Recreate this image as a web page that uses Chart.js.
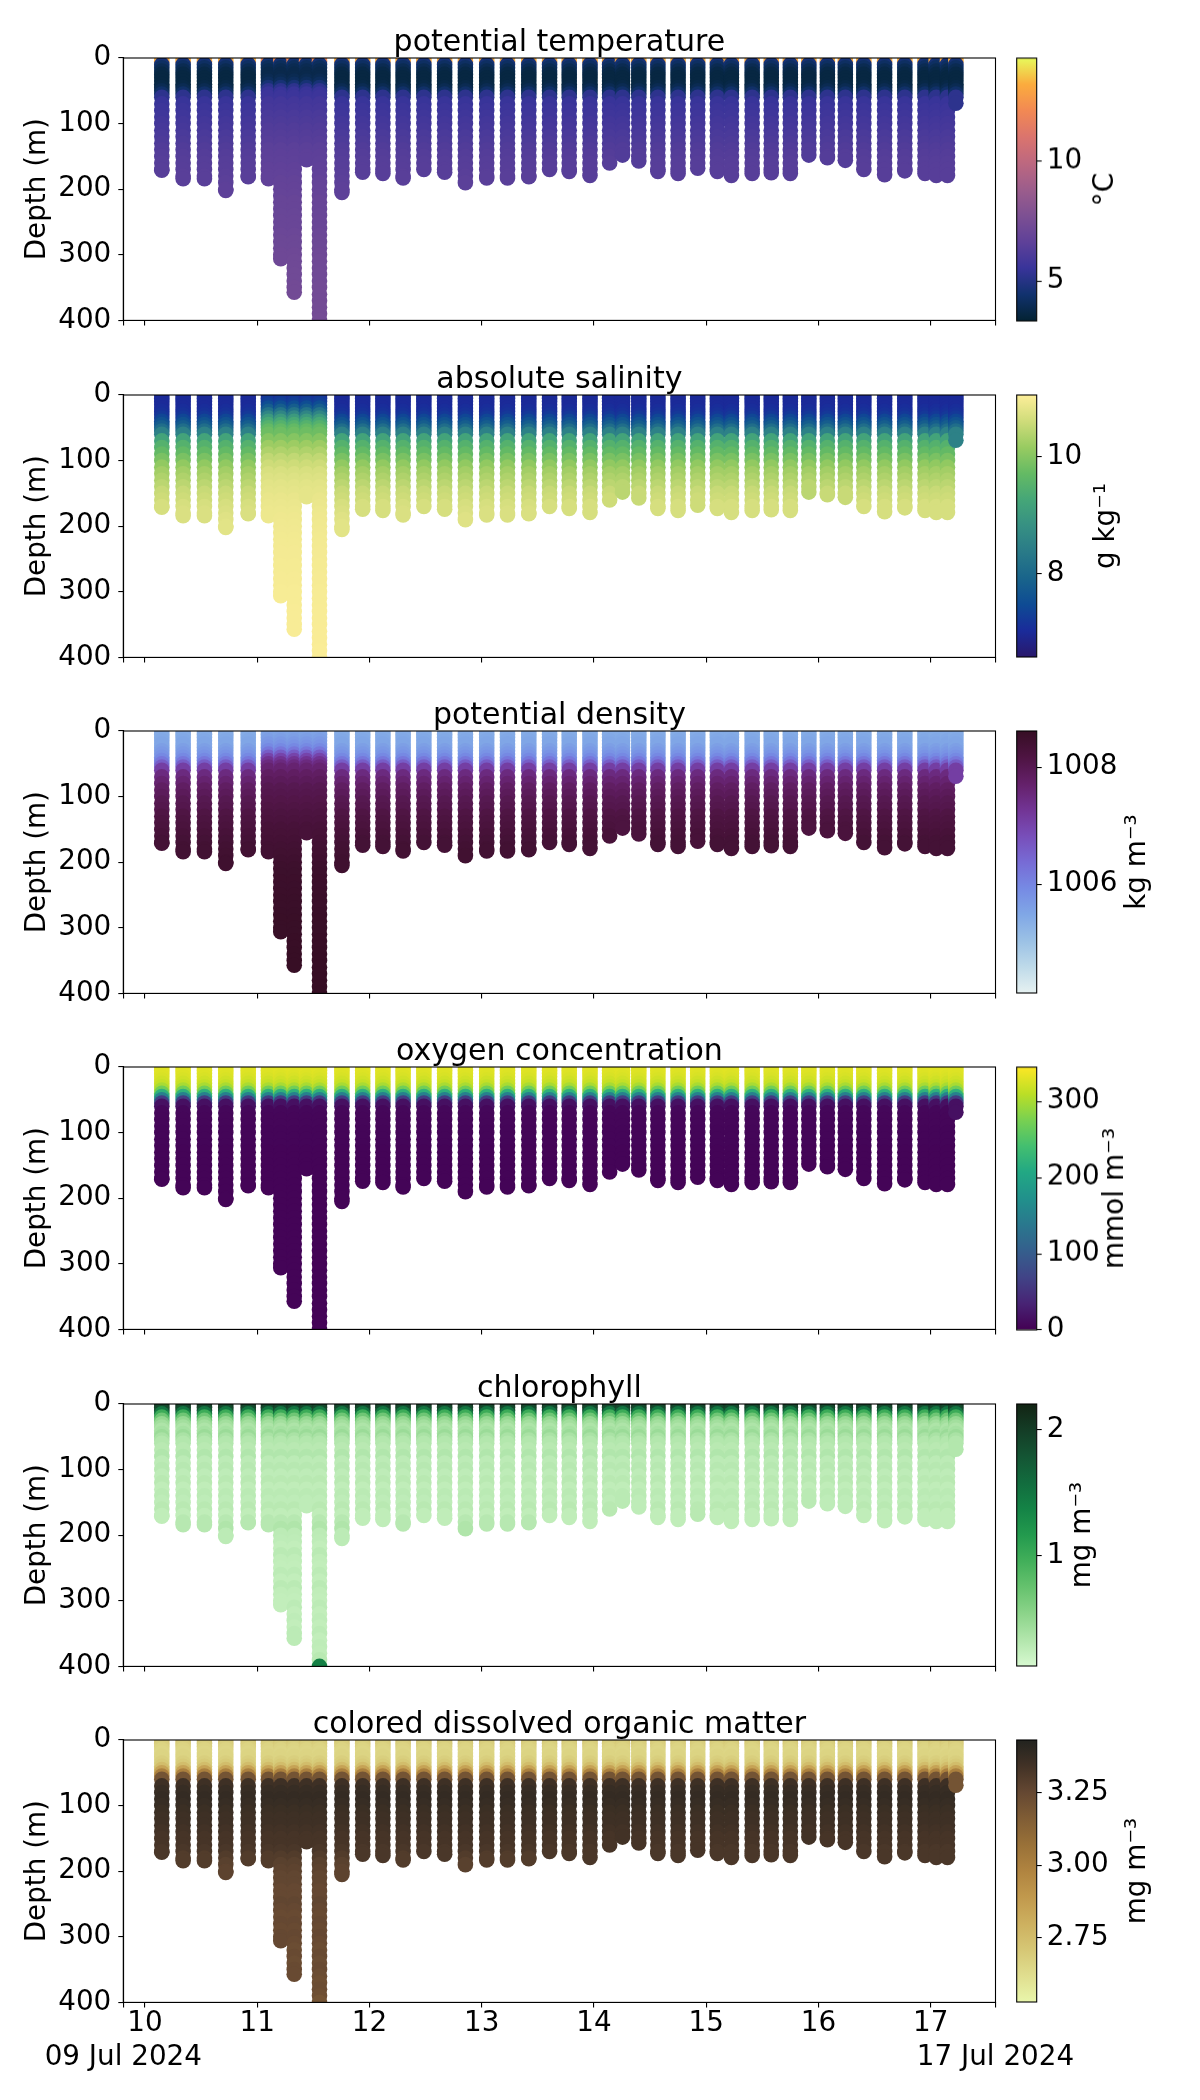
<!DOCTYPE html>
<html>
<head>
<meta charset="utf-8">
<script src="https://cdn.jsdelivr.net/npm/chart.js@4.4.1/dist/chart.umd.min.js"></script>
<style>
  body { margin: 0; background: #fff; }
  #fig { position: relative; width: 1200px; height: 2100px; overflow: hidden; }
  canvas { position: absolute; }
</style>
</head>
<body>
<div id="fig"></div>
<script>
// profile times (day of July 2024) and deepest sample of each profile (m)
const profileDays = [10.15, 10.34, 10.53, 10.72, 10.92, 11.10, 11.21, 11.33, 11.44, 11.555,
  11.755, 11.94, 12.12, 12.30, 12.485, 12.67, 12.855, 13.045, 13.23, 13.42,
  13.605, 13.78, 13.965, 14.14, 14.255, 14.40, 14.57, 14.75, 14.925, 15.10,
  15.225, 15.41, 15.58, 15.75, 15.915, 16.08, 16.24, 16.405, 16.59, 16.77,
  16.95, 17.05, 17.15, 17.225];
const profileMaxDepth = [171, 184, 184, 202, 181, 184, 306, 357, 155, 400,
  205, 174, 176, 183, 170, 174, 190, 183, 183, 181,
  170, 173, 179, 160, 148, 157, 173, 176, 168, 173,
  179, 176, 175, 176, 148, 152, 156, 170, 178, 172,
  176, 179, 179, 69];
// profiles around 11 Jul with a shallower pycnocline
const shallowProfiles = [5, 6, 7, 8, 9];

const depthLevels = [0, 5, 10, 15, 20, 25, 30, 35, 40, 45, 50, 55, 60,
  70, 80, 90, 100, 110, 120, 130, 140, 150, 160, 170, 180, 190, 200,
  210, 220, 230, 240, 250, 260, 270, 280, 290, 300, 310, 320, 330, 340, 350, 360, 370, 380, 390, 400];

const tempMain = [13.8, 13.0, 4.6, 4.2, 3.9, 3.7, 3.6, 3.6, 3.6, 3.7, 3.9, 4.3, 5.2,
  5.5, 5.6, 5.7, 5.8, 5.9, 6.0, 6.1, 6.2, 6.3, 6.35, 6.4, 6.45, 6.5, 6.55,
  6.6, 6.65, 6.7, 6.75, 6.8, 6.85, 6.9, 6.9, 6.95, 7.0, 7.0, 7.05, 7.1, 7.1, 7.15, 7.15, 7.2, 7.2, 7.2, 7.2];
const tempShallow = [13.0, 12.0, 4.5, 4.1, 3.9, 3.8, 3.8, 3.9, 4.1, 4.6, 5.2, 5.5, 5.6,
  5.8, 5.9, 6.0, 6.1, 6.2, 6.3, 6.4, 6.5, 6.55, 6.6, 6.65, 6.7, 6.75, 6.8,
  6.85, 6.9, 6.9, 6.95, 7.0, 7.0, 7.05, 7.1, 7.1, 7.15, 7.2, 7.2, 7.25, 7.25, 7.3, 7.3, 7.3, 7.35, 7.35, 7.4];

const salMain = [7.0, 7.0, 7.0, 7.0, 7.0, 7.05, 7.1, 7.2, 7.4, 7.6, 7.8, 8.1, 8.5,
  9.2, 9.5, 9.7, 9.9, 10.1, 10.25, 10.35, 10.45, 10.55, 10.6, 10.68, 10.72, 10.77, 10.8,
  10.83, 10.85, 10.87, 10.88, 10.9, 10.9, 10.92, 10.93, 10.94, 10.95, 10.95, 10.96, 10.97, 10.98, 10.98, 10.99, 11.0, 11.0, 11.0, 11.0];
const salShallow = [7.1, 7.1, 7.2, 7.3, 7.5, 7.8, 8.2, 8.6, 9.0, 9.3, 9.5, 9.7, 9.8,
  10.0, 10.2, 10.35, 10.5, 10.6, 10.7, 10.75, 10.8, 10.83, 10.86, 10.88, 10.9, 10.92, 10.93,
  10.94, 10.95, 10.96, 10.97, 10.97, 10.98, 10.98, 10.99, 10.99, 11.0, 11.0, 11.0, 11.01, 11.01, 11.01, 11.02, 11.02, 11.02, 11.03, 11.03];

const densMain = [1005.4, 1005.4, 1005.4, 1005.45, 1005.5, 1005.5, 1005.6, 1005.7, 1005.8, 1005.95, 1006.2, 1006.6, 1007.1,
  1007.5, 1007.65, 1007.8, 1007.9, 1008.0, 1008.05, 1008.15, 1008.2, 1008.25, 1008.3, 1008.35, 1008.4, 1008.42, 1008.45,
  1008.48, 1008.49, 1008.5, 1008.5, 1008.51, 1008.52, 1008.53, 1008.53, 1008.54, 1008.55, 1008.55, 1008.56, 1008.56, 1008.57, 1008.57, 1008.58, 1008.58, 1008.58, 1008.59, 1008.59];
const densShallow = [1005.5, 1005.5, 1005.55, 1005.6, 1005.7, 1005.8, 1005.95, 1006.2, 1006.6, 1007.0, 1007.3, 1007.5, 1007.65,
  1007.8, 1007.9, 1008.0, 1008.05, 1008.1, 1008.15, 1008.2, 1008.25, 1008.3, 1008.33, 1008.36, 1008.39, 1008.42, 1008.45,
  1008.48, 1008.5, 1008.51, 1008.52, 1008.53, 1008.54, 1008.55, 1008.56, 1008.57, 1008.58, 1008.58, 1008.59, 1008.59, 1008.6, 1008.6, 1008.6, 1008.61, 1008.61, 1008.61, 1008.62];

const oxyMain = [330, 330, 330, 328, 325, 320, 315, 300, 270, 220, 150, 60, 15,
  6, 5, 5, 4, 4, 4, 3, 3, 3, 3, 3, 3, 3, 3,
  3, 3, 3, 3, 3, 3, 3, 3, 3, 3, 3, 3, 3, 3, 3, 3, 3, 3, 3, 3];

const chlMain = [2.1, 2.0, 1.9, 1.5, 1.0, 0.7, 0.5, 0.42, 0.36, 0.4, 0.46, 0.38, 0.33,
  0.3, 0.34, 0.28, 0.31, 0.27, 0.3, 0.26, 0.29, 0.27, 0.3, 0.26, 0.31, 0.35, 0.28,
  0.27, 0.25, 0.29, 0.26, 0.25, 0.28, 0.25, 0.29, 0.26, 0.25, 0.28, 0.25, 0.27, 0.25, 0.28, 0.25, 0.27, 0.26, 0.3, 1.4];

const cdomMain = [2.72, 2.7, 2.68, 2.66, 2.65, 2.66, 2.66, 2.68, 2.7, 2.75, 2.85, 3.0, 3.2,
  3.35, 3.37, 3.38, 3.37, 3.36, 3.35, 3.35, 3.34, 3.33, 3.33, 3.32, 3.3, 3.28, 3.27,
  3.26, 3.26, 3.25, 3.25, 3.26, 3.25, 3.24, 3.25, 3.24, 3.25, 3.24, 3.23, 3.24, 3.23, 3.24, 3.23, 3.22, 3.23, 3.22, 3.2];

// axis ticks
const dayTicks = [10, 11, 12, 13, 14, 15, 16, 17];
const depthTicks = [0, 100, 200, 300, 400];
const dateLabels = ['09 Jul 2024', '17 Jul 2024'];
const xMin = 9.807, xMax = 17.578;

const tempTicks = [5, 10];
const salTicks = [8, 10];
const densTicks = [1006, 1008];
const oxyTicks = [0, 100, 200, 300];
const chlTicks = [1, 2];
const cdomTicks = [2.75, 3.00, 3.25];

// colormaps (evenly spaced stops)
const thermal = [[4,35,51],[17,50,110],[57,52,154],[95,65,153],[125,80,147],[156,93,140],[189,104,128],[219,116,110],[242,137,84],[251,172,62],[232,250,91]];
const haline = [[41,24,107],[26,43,154],[14,75,148],[25,100,139],[41,122,136],[54,144,131],[69,166,120],[100,186,100],[152,203,97],[207,220,122],[253,238,153]];
const dense = [[230,241,241],[190,218,233],[155,193,229],[128,167,230],[118,138,228],[119,107,213],[120,78,185],[114,52,148],[100,32,105],[78,20,66],[54,14,36]];
const viridis = [[68,1,84],[72,36,117],[65,68,135],[53,95,141],[42,120,142],[33,145,140],[34,168,132],[68,191,112],[122,209,81],[189,223,38],[253,231,37]];
const algae = [[215,249,208],[178,230,172],[140,212,138],[102,194,110],[66,175,90],[35,154,78],[20,131,70],[18,108,62],[20,85,52],[20,61,38],[18,36,20]];
const turbid = [[233,246,171],[224,222,143],[214,199,117],[205,176,95],[193,153,77],[176,132,64],[153,113,56],[128,93,53],[101,72,50],[66,50,38],[34,35,31]];

const panels = [
  { title: 'potential temperature', main: tempMain, alt: tempShallow, cmap: thermal, vmin: 3.33, vmax: 14.29, ticks: tempTicks, dec: 0, unit: '°C', unitX: 106 },
  { title: 'absolute salinity', main: salMain, alt: salShallow, cmap: haline, vmin: 6.57, vmax: 11.06, ticks: salTicks, dec: 0, unit: 'g kg⁻¹', unitX: 107 },
  { title: 'potential density', main: densMain, alt: densShallow, cmap: dense, vmin: 1004.14, vmax: 1008.62, ticks: densTicks, dec: 0, unit: 'kg m⁻³', unitX: 138 },
  { title: 'oxygen concentration', main: oxyMain, alt: null, cmap: viridis, vmin: 0, vmax: 345, ticks: oxyTicks, dec: 0, unit: 'mmol m⁻³', unitX: 116 },
  { title: 'chlorophyll', main: chlMain, alt: null, cmap: algae, vmin: 0.13, vmax: 2.2, ticks: chlTicks, dec: 0, unit: 'mg m⁻³', unitX: 83 },
  { title: 'colored dissolved organic matter', main: cdomMain, alt: null, cmap: turbid, vmin: 2.53, vmax: 3.43, ticks: cdomTicks, dec: 2, unit: 'mg m⁻³', unitX: 138 }
];

const FS = 27.8;
const panelTop0 = 58.3, panelStep = 336.3, panelH = 262.4;
const plotLeft = 123.3, plotRight = 995.5;

Chart.defaults.font.family = '"DejaVu Sans", sans-serif';
Chart.defaults.font.size = FS;
Chart.defaults.color = '#000';

function cmapColor(stops, v, vmin, vmax) {
  let f = (v - vmin) / (vmax - vmin);
  f = Math.max(0, Math.min(1, f)) * (stops.length - 1);
  const i = Math.min(Math.floor(f), stops.length - 2);
  const t = f - i;
  const a = stops[i], b = stops[i + 1];
  return `rgb(${Math.round(a[0] + (b[0] - a[0]) * t)},${Math.round(a[1] + (b[1] - a[1]) * t)},${Math.round(a[2] + (b[2] - a[2]) * t)})`;
}

// one point per sampled level, top to bottom, for every profile
function buildPoints(main, alt) {
  const pts = [];
  profileDays.forEach((day, i) => {
    const prof = (alt && shallowProfiles.includes(i)) ? alt : main;
    let last = 0;
    depthLevels.forEach((d, k) => {
      if (d <= profileMaxDepth[i]) {
        pts.push({ x: day, y: d, v: prof[k] });
        last = k;
      }
    });
    if (depthLevels[last] < profileMaxDepth[i]) {
      pts.push({ x: day, y: profileMaxDepth[i], v: prof[last] });
    }
  });
  return pts;
}

const framePlugin = {
  id: 'frame',
  afterDraw(chart) {
    const { ctx, chartArea: a } = chart;
    ctx.save();
    ctx.strokeStyle = '#000';
    ctx.lineWidth = 1.1;
    ctx.strokeRect(a.left, a.top, a.right - a.left, a.bottom - a.top);
    ctx.restore();
  }
};

const unitPlugin = {
  id: 'unitLabel',
  afterDraw(chart, args, opts) {
    const { ctx, chartArea: a } = chart;
    ctx.save();
    ctx.translate(opts.x, (a.top + a.bottom) / 2);
    ctx.rotate(-Math.PI / 2);
    ctx.font = `${FS}px "DejaVu Sans"`;
    ctx.fillStyle = '#000';
    ctx.textAlign = 'center';
    ctx.textBaseline = 'middle';
    ctx.fillText(opts.text, 0, 0);
    ctx.restore();
  }
};

const fig = document.getElementById('fig');

function addCanvas(left, top, w, h) {
  const c = document.createElement('canvas');
  c.width = w; c.height = h;
  c.style.left = left + 'px';
  c.style.top = top + 'px';
  c.style.width = w + 'px';
  c.style.height = h + 'px';
  fig.appendChild(c);
  return c;
}

const tickGrid = { drawOnChartArea: false, drawTicks: true, tickLength: 5, color: '#000', lineWidth: 1.1 };

function makePanel(p, idx) {
  const top = panelTop0 + idx * panelStep;
  const isLast = idx === panels.length - 1;
  const canvas = addCanvas(0, top - 60, 1200, 423);
  new Chart(canvas, {
    type: 'scatter',
    data: {
      datasets: [{
        data: buildPoints(p.main, p.alt),
        pointRadius: 7.8,
        pointHoverRadius: 7.8,
        pointBorderWidth: 0,
        pointBackgroundColor: ctx => cmapColor(p.cmap, ctx.raw.v, p.vmin, p.vmax),
        clip: 0
      }]
    },
    options: {
      responsive: false,
      animation: false,
      events: [],
      layout: { padding: { left: 0, right: 1200 - plotRight, top: 0, bottom: 0 } },
      plugins: {
        legend: { display: false },
        tooltip: { enabled: false },
        title: {
          display: true, text: p.title, fullSize: false, color: '#000',
          font: { size: 30, weight: 'normal', lineHeight: 1 }, padding: { top: 30, bottom: 0 }
        }
      },
      scales: {
        x: {
          type: 'linear', min: xMin, max: xMax,
          afterBuildTicks: s => { s.ticks = [xMin, ...dayTicks, xMax].map(v => ({ value: v })); },
          afterFit: s => { s.height = 423 - 60 - panelH; },
          ticks: {
            display: isLast, autoSkip: false, maxRotation: 0, padding: 0,
            callback: v => v === xMin ? ['', dateLabels[0]] : (v === xMax ? ['', dateLabels[1]] : String(v))
          },
          grid: tickGrid,
          border: { display: true, color: '#000', width: 1.1 }
        },
        y: {
          type: 'linear', reverse: true, min: 0, max: 400,
          afterBuildTicks: s => { s.ticks = depthTicks.map(v => ({ value: v })); },
          afterFit: s => { s.width = plotLeft; },
          ticks: { padding: 7 },
          title: { display: true, text: 'Depth (m)', color: '#000', font: { size: FS }, padding: { top: 21.3, bottom: 0 } },
          grid: tickGrid,
          border: { display: true, color: '#000', width: 1.1 }
        }
      }
    },
    plugins: [framePlugin]
  });
}

function makeColorbar(p, idx) {
  const top = panelTop0 + idx * panelStep;
  const canvas = addCanvas(1000, top - 30, 200, panelH + 60);
  new Chart(canvas, {
    type: 'bar',
    data: {
      labels: [''],
      datasets: [{
        data: [[p.vmin, p.vmax]],
        barPercentage: 1, categoryPercentage: 1, borderWidth: 0, inflateAmount: 0,
        backgroundColor: ctx => {
          const a = ctx.chart.chartArea;
          if (!a) return '#fff';
          const g = ctx.chart.ctx.createLinearGradient(0, a.bottom, 0, a.top);
          p.cmap.forEach((c, i) => g.addColorStop(i / (p.cmap.length - 1), `rgb(${c[0]},${c[1]},${c[2]})`));
          return g;
        }
      }]
    },
    options: {
      responsive: false,
      animation: false,
      events: [],
      layout: { padding: { left: 16.7, right: 0, top: 30, bottom: 30 } },
      plugins: {
        legend: { display: false },
        tooltip: { enabled: false },
        unitLabel: { text: p.unit, x: p.unitX }
      },
      scales: {
        x: { display: false },
        y: {
          position: 'right', min: p.vmin, max: p.vmax,
          afterBuildTicks: s => { s.ticks = p.ticks.map(v => ({ value: v })); },
          afterFit: s => { s.width = 200 - 16.7 - 20; },
          ticks: { padding: 5, callback: v => Number(v).toFixed(p.dec) },
          grid: tickGrid,
          border: { display: false }
        }
      }
    },
    plugins: [framePlugin, unitPlugin]
  });
}

panels.forEach((p, i) => { makePanel(p, i); makeColorbar(p, i); });
</script>
</body>
</html>
